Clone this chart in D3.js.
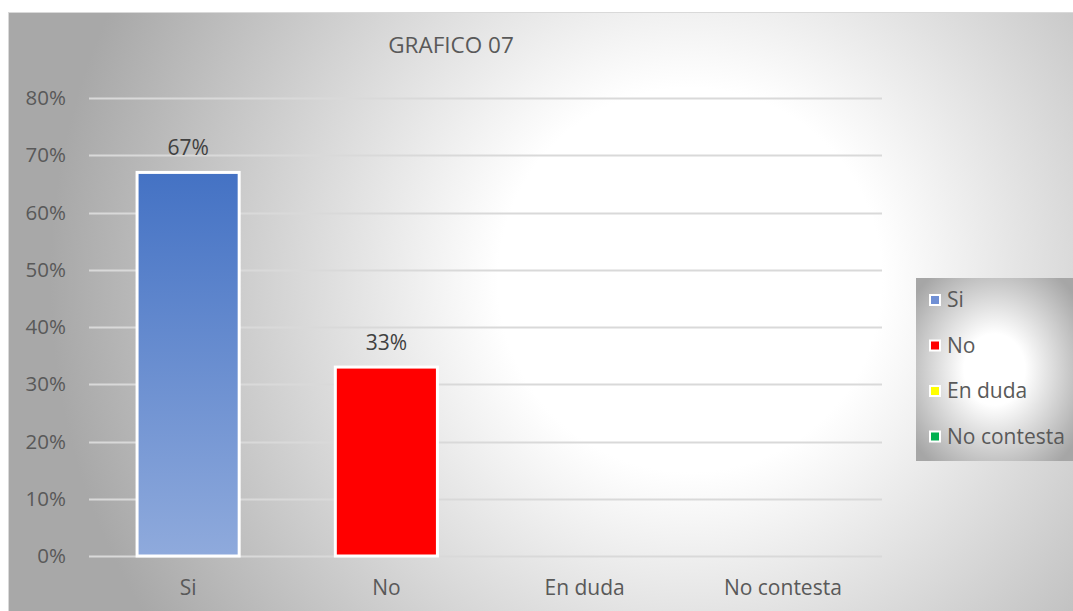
<!DOCTYPE html>
<html>
<head>
<meta charset="utf-8">
<script src="https://cdn.jsdelivr.net/npm/d3@7"></script>
<style>
  body { margin: 0; background: #fff; }
  text { font-family: "Open Sans", "Liberation Sans", sans-serif; fill: #595959; }
</style>
</head>
<body>
<script>
var categories = ["Si", "No", "En duda", "No contesta"];
var values = [0.67, 0.33, 0, 0];
var labels = ["67%", "33%", "", ""];
var legendNames = ["Si", "No", "En duda", "No contesta"];
var legendColors = ["#6f8fd4", "#ff0000", "#ffff00", "#00b050"];
var yTicks = [0, 0.1, 0.2, 0.3, 0.4, 0.5, 0.6, 0.7, 0.8];

var width = 1073, height = 611;
var margin = {top: 98, right: 191, bottom: 55, left: 89};

var svg = d3.select("body").append("svg")
    .attr("width", width)
    .attr("height", height);

var defs = svg.append("defs");

var bg = defs.append("radialGradient")
    .attr("id", "bg")
    .attr("gradientUnits", "userSpaceOnUse")
    .attr("cx", 690).attr("cy", 280).attr("r", 640);
bg.append("stop").attr("offset", "0%").attr("stop-color", "#ffffff");
bg.append("stop").attr("offset", "30%").attr("stop-color", "#ffffff");
bg.append("stop").attr("offset", "100%").attr("stop-color", "#a8a8a8");

var lg = defs.append("radialGradient")
    .attr("id", "lg")
    .attr("cx", "50%").attr("cy", "50%").attr("r", "65%");
lg.append("stop").attr("offset", "0%").attr("stop-color", "#ffffff");
lg.append("stop").attr("offset", "30%").attr("stop-color", "#ffffff");
lg.append("stop").attr("offset", "100%").attr("stop-color", "#a6a6a6");

var blue = defs.append("linearGradient")
    .attr("id", "blue")
    .attr("x1", 0).attr("y1", 0).attr("x2", 0).attr("y2", 1);
blue.append("stop").attr("offset", "0%").attr("stop-color", "#4472c4");
blue.append("stop").attr("offset", "100%").attr("stop-color", "#8faadc");

// chart area background
svg.append("rect")
    .attr("x", 8.5).attr("y", 12.5)
    .attr("width", width - 8).attr("height", height - 12)
    .attr("fill", "url(#bg)")
    .attr("stroke", "#d9d9d9");

var x = d3.scaleBand()
    .domain(categories)
    .range([margin.left, width - margin.right])
    .paddingInner(0.485)
    .paddingOuter(0.2425);

var y = d3.scaleLinear()
    .domain([0, 0.8])
    .range([height - margin.bottom, margin.top]);

// gridlines
svg.append("g")
  .selectAll("line")
  .data(yTicks)
  .enter().append("line")
    .attr("x1", margin.left)
    .attr("x2", width - margin.right)
    .attr("y1", function(d) { return Math.round(y(d)) + 0.5; })
    .attr("y2", function(d) { return Math.round(y(d)) + 0.5; })
    .attr("stroke", "#d9d9d9")
    .attr("stroke-width", 2);

// y axis labels
svg.append("g")
  .selectAll("text")
  .data(yTicks)
  .enter().append("text")
    .attr("x", 66)
    .attr("y", function(d) { return y(d); })
    .attr("dy", "0.35em")
    .attr("text-anchor", "end")
    .style("font-size", "20.5px")
    .text(d3.format(".0%"));

// bars
var fills = ["url(#blue)", "#ff0000", "#ffff00", "#00b050"];
svg.append("g")
  .selectAll("rect")
  .data(values)
  .enter().append("rect")
    .attr("x", function(d, i) { return x(categories[i]); })
    .attr("y", function(d) { return y(d); })
    .attr("width", x.bandwidth())
    .attr("height", function(d) { return y(0) - y(d); })
    .attr("fill", function(d, i) { return fills[i]; })
    .attr("stroke", "#ffffff")
    .attr("stroke-width", 3)
    .style("display", function(d) { return d > 0 ? null : "none"; });

// data labels
svg.append("g")
  .selectAll("text")
  .data(values)
  .enter().append("text")
    .attr("x", function(d, i) { return x(categories[i]) + x.bandwidth() / 2; })
    .attr("y", function(d) { return y(d) - 17; })
    .attr("text-anchor", "middle")
    .style("font-size", "21px")
    .style("fill", "#404040")
    .text(function(d, i) { return labels[i]; });

// category labels
svg.append("g")
  .selectAll("text")
  .data(categories)
  .enter().append("text")
    .attr("x", function(d) { return x(d) + x.bandwidth() / 2; })
    .attr("y", 595)
    .attr("text-anchor", "middle")
    .style("font-size", "21px")
    .text(function(d) { return d; });

// title
svg.append("text")
    .attr("x", 451)
    .attr("y", 53)
    .attr("text-anchor", "middle")
    .style("font-size", "22.5px")
    .text("GRAFICO 07");

// legend
var legend = svg.append("g").attr("transform", "translate(916,278)");
legend.append("rect")
    .attr("width", 157).attr("height", 183)
    .attr("fill", "url(#lg)");

var item = legend.selectAll("g.item")
    .data(legendNames)
  .enter().append("g")
    .attr("class", "item")
    .attr("transform", function(d, i) { return "translate(0," + (22 + i * 45.5) + ")"; });

item.append("rect")
    .attr("x", 13).attr("y", -6)
    .attr("width", 12).attr("height", 12)
    .attr("fill", "#ffffff");
item.append("rect")
    .attr("x", 15).attr("y", -4)
    .attr("width", 8).attr("height", 8)
    .attr("fill", function(d, i) { return legendColors[i]; });
item.append("text")
    .attr("x", 31)
    .attr("y", 0)
    .attr("dy", "0.35em")
    .style("font-size", "21px")
    .text(function(d) { return d; });
</script>
</body>
</html>
